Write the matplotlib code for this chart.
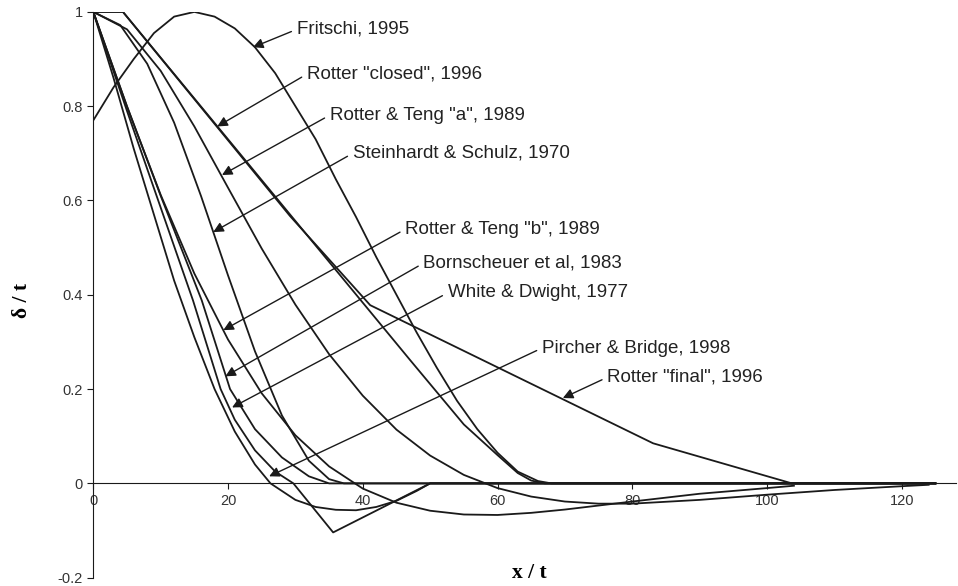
import matplotlib.pyplot as plt

# curves (x/t, delta/t)
fritschi_x = [0, 3, 6, 9, 12, 15, 18, 21, 24, 27, 30, 33, 36, 39, 42, 45, 48, 51, 54, 57, 60, 63, 66, 68, 125]
fritschi_y = [0.77, 0.84, 0.90, 0.955, 0.99, 1.0, 0.99, 0.965, 0.925, 0.87, 0.80, 0.73, 0.645, 0.565, 0.48,
              0.40, 0.32, 0.245, 0.175, 0.115, 0.065, 0.025, 0.005, 0, 0]

closed_x = [0, 4.4, 47, 55, 60, 63, 65, 67, 125]
closed_y = [1, 1, 0.262, 0.125, 0.06, 0.022, 0.006, 0, 0]

final_x = [0, 4.4, 29.2, 35, 41.1, 83.1, 103.7, 125]
final_y = [1, 1, 0.567, 0.475, 0.378, 0.085, 0, 0]

rta_x = [0, 5, 10, 15, 20, 25, 30, 35, 40, 45, 50, 55, 60, 65, 70, 75, 80, 90, 100, 110, 120, 124]
rta_y = [1, 0.963, 0.875, 0.757, 0.627, 0.498, 0.379, 0.274, 0.186, 0.114, 0.059, 0.018, -0.010, -0.028,
         -0.0385, -0.043, -0.043, -0.035, -0.024, -0.014, -0.006, -0.003]

rtb_x = [0, 5, 10, 15, 20, 25, 30, 35, 40, 45, 50, 55, 60, 65, 70, 75, 80, 90, 100, 104]
rtb_y = [1, 0.799, 0.612, 0.445, 0.305, 0.191, 0.102, 0.036, -0.011, -0.041, -0.058, -0.066, -0.067, -0.0625,
         -0.0555, -0.047, -0.0385, -0.022, -0.010, -0.005]

steinhardt_x = [0, 4, 8, 12, 16, 20, 24, 28, 32, 35, 37.2, 125]
steinhardt_y = [1, 0.972, 0.890, 0.765, 0.609, 0.441, 0.280, 0.144, 0.048, 0.009, 0, 0]

bornscheuer_x = [0, 5, 10, 16.1, 20.3, 24, 28, 32, 35, 125]
bornscheuer_y = [1, 0.80, 0.61, 0.388, 0.20, 0.115, 0.055, 0.015, 0, 0]

white_x = [0, 5, 10, 14.8, 18.9, 21, 24, 27, 29.7, 35.6, 50, 125]
white_y = [1, 0.79, 0.585, 0.388, 0.20, 0.135, 0.07, 0.025, 0, -0.104, 0, 0]

pircher_x = [0, 3, 6, 9, 12, 15, 18, 21, 24, 26.3, 30, 33, 36, 39, 42, 45, 48, 50, 125]
pircher_y = [1, 0.86, 0.71, 0.57, 0.43, 0.31, 0.20, 0.11, 0.04, 0, -0.035, -0.05, -0.056, -0.057,
             -0.05, -0.037, -0.016, 0, 0]

labels = ['Fritschi, 1995', 'Rotter "closed", 1996', 'Rotter & Teng "a", 1989', 'Steinhardt & Schulz, 1970',
          'Rotter & Teng "b", 1989', 'Bornscheuer et al, 1983', 'White & Dwight, 1977',
          'Pircher & Bridge, 1998', 'Rotter "final", 1996']
# arrow tip (data) and text anchor (data)
tips = [(23.7, 0.925), (18.4, 0.757), (19.1, 0.654), (17.8, 0.533), (19.3, 0.325), (19.6, 0.227),
        (20.6, 0.161), (26.1, 0.015), (69.7, 0.181)]
texts = [(30.2, 0.963), (31.7, 0.868), (35.1, 0.781), (38.5, 0.700), (46.3, 0.539), (49.0, 0.467),
         (52.6, 0.404), (66.6, 0.287), (76.3, 0.225)]

fig = plt.figure(figsize=(9.58, 5.86), dpi=100)
ax = fig.add_axes([0.0974, 0.0142, 0.9001, 0.9655])

ink = '#1a1a1a'
for xs, ys in [(fritschi_x, fritschi_y), (closed_x, closed_y), (final_x, final_y), (rta_x, rta_y),
               (rtb_x, rtb_y), (steinhardt_x, steinhardt_y), (bornscheuer_x, bornscheuer_y),
               (white_x, white_y), (pircher_x, pircher_y)]:
    ax.plot(xs, ys, color=ink, lw=1.3)

for lab, tip, txt in zip(labels, tips, texts):
    ax.annotate(lab, xy=tip, xytext=txt, fontsize=13.5, color='#222222', family='Liberation Sans',
                va='center', ha='left',
                arrowprops=dict(arrowstyle='-|>', color=ink, lw=1.0, mutation_scale=15,
                                shrinkA=2, shrinkB=0, relpos=(0, 0.5)))

ax.set_xlim(0, 128)
ax.set_ylim(-0.2, 1)
ax.spines['top'].set_visible(False)
ax.spines['right'].set_visible(False)
ax.spines['left'].set_position(('data', 0))
ax.spines['bottom'].set_position(('data', 0))
ax.spines['left'].set_color(ink)
ax.spines['bottom'].set_color(ink)
ax.set_xticks([0, 20, 40, 60, 80, 100, 120])
ax.set_xticklabels(['0', '20', '40', '60', '80', '100', '120'])
ax.set_yticks([-0.2, 0, 0.2, 0.4, 0.6, 0.8, 1])
ax.set_yticklabels(['-0.2', '0', '0.2', '0.4', '0.6', '0.8', '1'])
ax.tick_params(axis='both', labelsize=10.5, labelcolor='#333333', color=ink, length=4, direction='out')
for t in ax.get_xticklabels() + ax.get_yticklabels():
    t.set_family('Liberation Sans')

fig.text(0.023, 0.488, 'δ / t', rotation=90, ha='center', va='center', fontsize=15.5,
         family='Liberation Serif', weight='bold')
fig.text(0.553, 0.022, 'x / t', ha='center', va='center', fontsize=15.5,
         family='Liberation Serif', weight='bold')

fig.savefig('out.png', dpi=100)
